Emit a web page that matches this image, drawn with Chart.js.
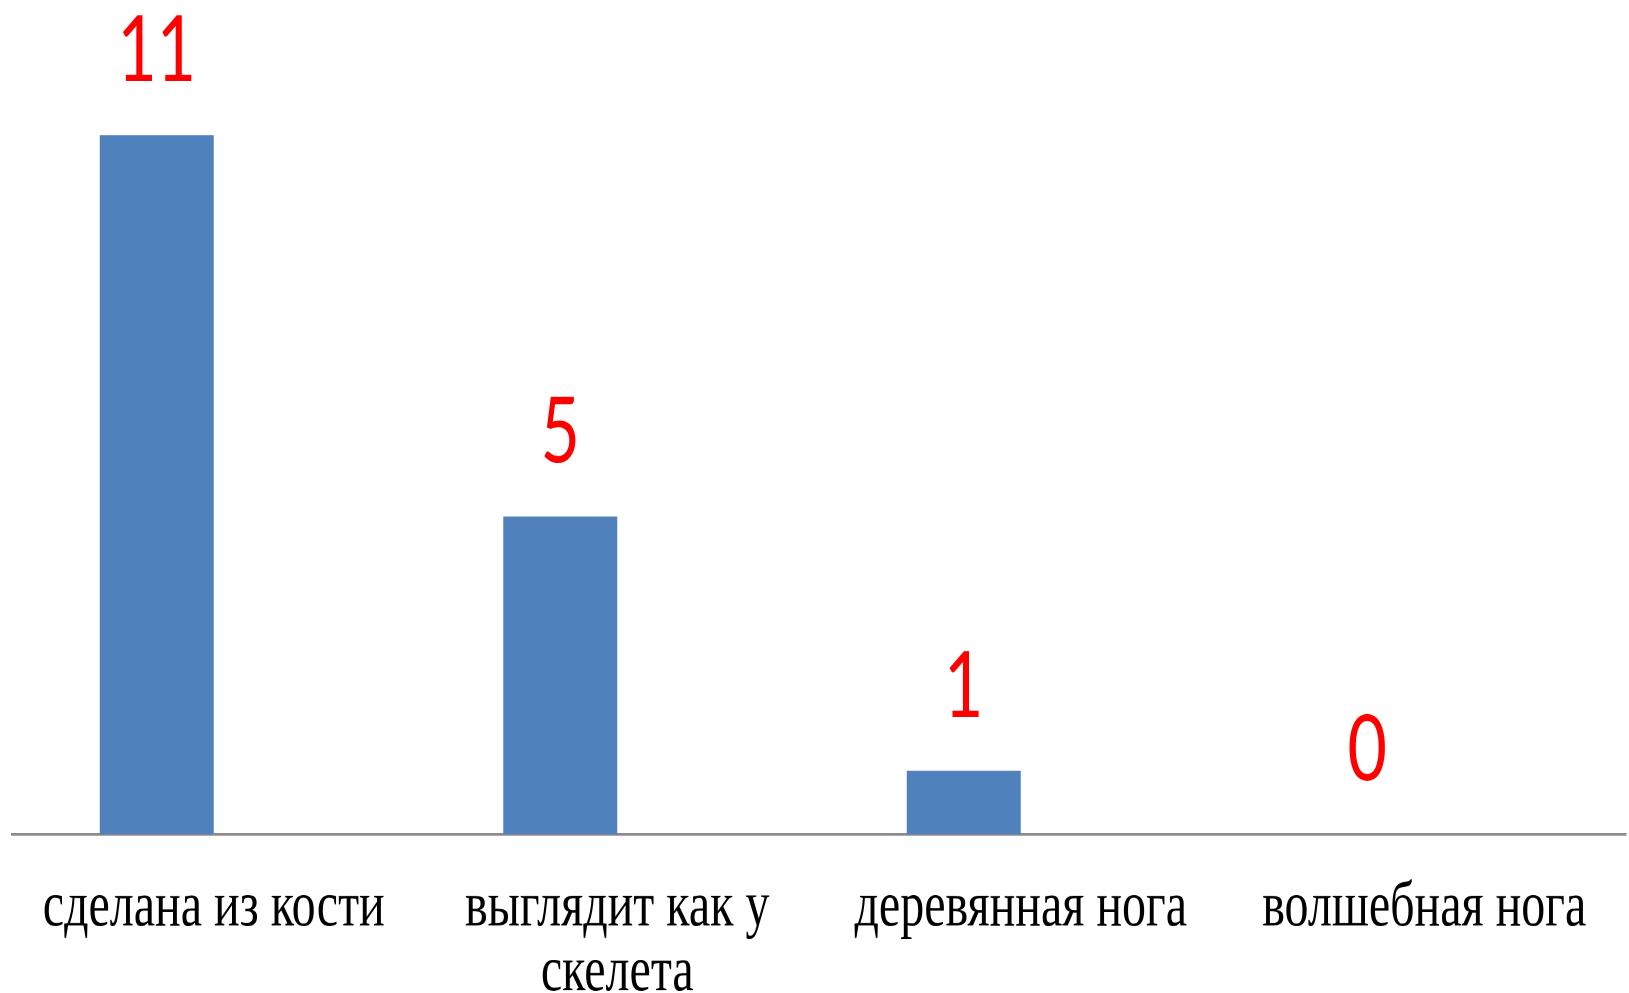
<!DOCTYPE html>
<html lang="ru">
<head>
    <meta charset="UTF-8" />
    <title>Нога</title>
    <script src="https://cdn.jsdelivr.net/npm/chart.js"></script>
    <style>
        html, body {
            margin: 0;
            background: #ffffff;
        }
        .page {
            width: 1629px;
            height: 993px;
            overflow: hidden;
        }
        /* the source picture is stretched vertically, so the chart is drawn
           at a lower height and stretched the same way */
        .wrap {
            width: 1629px;
            height: 736px;
            transform: scaleY(1.35);
            transform-origin: 0 0;
        }
    </style>
</head>
<body>
<div class="page">
    <div class="wrap">
        <canvas id="barChart"></canvas>
    </div>
</div>
<script>
    const categories = [
        'сделана из кости',
        ['выглядит как у', 'скелета'],
        'деревянная нога',
        'волшебная нога'
    ];
    const counts = [11, 5, 1, 0];
    // second (empty) series of the original chart, keeps the bars shifted left
    const emptySeries = [null, null, null, null];

    const valueLabels = {
        id: 'valueLabels',
        afterDatasetsDraw(chart) {
            const ctx = chart.ctx;
            const meta = chart.getDatasetMeta(0);
            ctx.save();
            ctx.fillStyle = '#ff0000';
            ctx.font = '68px Lato';
            ctx.textAlign = 'center';
            ctx.textBaseline = 'alphabetic';
            meta.data.forEach((bar, i) => {
                ctx.fillText(String(counts[i]), bar.x, bar.y - 40);
            });
            ctx.restore();
        }
    };

    const ctx = document.getElementById('barChart').getContext('2d');
    new Chart(ctx, {
        type: 'bar',
        data: {
            labels: categories,
            datasets: [{
                label: 'Ряд 1',
                data: counts,
                backgroundColor: '#4f81bd',
                borderWidth: 0
            }, {
                label: 'Ряд 2',
                data: emptySeries,
                backgroundColor: '#c0504d',
                borderWidth: 0
            }]
        },
        options: {
            responsive: true,
            maintainAspectRatio: false,
            animation: false,
            devicePixelRatio: 2,
            categoryPercentage: 0.565,
            barPercentage: 1,
            layout: {
                padding: { top: 53, left: 12, right: 3, bottom: 0 }
            },
            plugins: {
                legend: { display: false },
                tooltip: { enabled: false }
            },
            scales: {
                x: {
                    afterFit(scale) {
                        scale.height = 118;
                    },
                    grid: { display: false, drawTicks: false },
                    border: { display: true, color: '#8c8c8c', width: 2 },
                    ticks: {
                        color: '#000000',
                        padding: 31,
                        maxRotation: 0,
                        autoSkip: false,
                        font: { family: 'Liberation Serif', size: 48, lineHeight: 1.0 }
                    }
                },
                y: {
                    display: false,
                    min: 0,
                    max: 12
                }
            }
        },
        plugins: [valueLabels]
    });
</script>
</body>
</html>
